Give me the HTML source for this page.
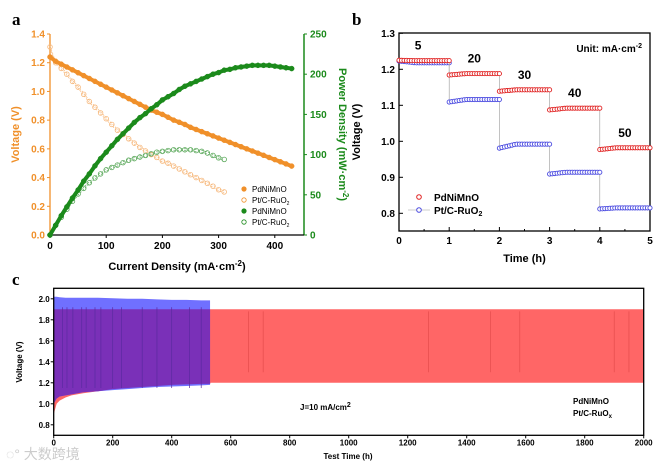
<!DOCTYPE html>
<html><head><meta charset="utf-8"><style>
body{margin:0;background:#fff;}
svg{display:block;font-family:"Liberation Sans",Arial,sans-serif;}
</style></head><body>
<svg id="fig" width="655" height="464" viewBox="0 0 655 464" xmlns="http://www.w3.org/2000/svg">
<g id="pa"></g>
<g id="pb"></g>
<g id="pc"></g>
</svg>
<script>
// ---------- Panel a data ----------
const aCurrentPd = [0,10,20,30,40,50,60,70,80,90,100,110,120,130,140,150,160,170,180,190,200,210,220,230,240,250,260,270,280,290,300,310,320,330,340,350,360,370,380,390,400,410,420,430];
const aVoltPd = [1.24,1.21,1.19,1.17,1.15,1.13,1.11,1.09,1.07,1.05,1.03,1.01,0.99,0.97,0.95,0.93,0.91,0.89,0.87,0.855,0.84,0.82,0.80,0.785,0.77,0.75,0.735,0.72,0.705,0.69,0.675,0.66,0.645,0.63,0.615,0.60,0.585,0.57,0.555,0.54,0.525,0.51,0.495,0.48];
const aPowerPd = [0,12,24,35,46,56,67,76,86,95,103,111,119,126,133,140,146,151,157,162,168,172,176,181,185,188,191,194,197,200,202,205,206,208,209,210,211,211,211,211,210,209,208,207];
const aCurrentPt = [0,10,20,30,40,50,60,70,80,90,100,110,120,130,140,150,160,170,180,190,200,210,220,230,240,250,260,270,280,290,300,310];
const aVoltPt = [1.31,1.2,1.16,1.12,1.07,1.03,0.98,0.93,0.89,0.85,0.81,0.77,0.73,0.70,0.67,0.64,0.61,0.585,0.56,0.54,0.515,0.50,0.48,0.46,0.44,0.42,0.40,0.38,0.36,0.34,0.315,0.30];
const aPowerPt = [0,12,22,32,42,51,58,65,71,76,81,84,87,90,93,95,97,99,101,103,104,105,106,106,106,106,105,104,102,99,96,94];
const aXTicks = [0,100,200,300,400];
const aVTicks = [0,0.2,0.4,0.6,0.8,1.0,1.2,1.4];
const aPTicks = [0,50,100,150,200,250];
// ---------- Panel b data ----------
const bSegments = [0,1,2,3,4];
const bPdStart = [1.225,1.184,1.139,1.087,0.977];
const bPdEnd = [1.224,1.188,1.143,1.092,0.982];
const bPtStart = [1.223,1.109,0.981,0.909,0.812];
const bPtEnd = [1.218,1.116,0.992,0.914,0.815];
const bCurrents = ["5","20","30","40","50"];
const bXTicks = [0,1,2,3,4,5];
const bYTicks = [0.8,0.9,1.0,1.1,1.2,1.3];
// ---------- Panel c data ----------
const cTime = [0,10,20,40,60,100,150,200,250,300,350,400,450,500,530];
const cRedBottom = [0.9,1.0,1.03,1.06,1.08,1.1,1.12,1.14,1.15,1.16,1.17,1.18,1.185,1.19,1.19];
const cBlueTop = [2.02,2.02,2.015,2.01,2.01,2.01,2.01,2.005,2.0,2.0,1.995,1.99,1.99,1.985,1.985];
const cBlueBottom = [1.0,1.05,1.07,1.08,1.09,1.11,1.12,1.13,1.14,1.15,1.16,1.165,1.17,1.175,1.18];
const cRedTop = 1.9;
const cRedBottomLate = 1.2;
const cXTicks = [0,200,400,600,800,1000,1200,1400,1600,1800,2000];
const cYTicks = [0.8,1.0,1.2,1.4,1.6,1.8,2.0];

const NS="http://www.w3.org/2000/svg";
function mk(parent,tag,attrs,text){const e=document.createElementNS(NS,tag);for(const k in attrs)e.setAttribute(k,attrs[k]);if(text!==undefined)e.textContent=text;parent.appendChild(e);return e;}

// ===== Panel a =====
(function(){
const g=document.getElementById('pa');
const X0=50,X1=304,Y0=235,Y1=34;
const sx=v=>X0+v*(56.2/100);
const sv=v=>Y0-(v/1.4)*(Y0-Y1);
const sp=v=>Y0-(v/250)*(Y0-Y1);
const OR="#f0902a",GR="#1b8a1b";
let t=mk(g,'text',{x:12,y:25,'font-family':'Liberation Serif,serif','font-weight':'bold','font-size':17},'a');


let ax=mk(g,'line',{x1:X0,y1:Y1,x2:X0,y2:Y0,stroke:OR,'stroke-width':1.3});

ax=mk(g,'line',{x1:X1,y1:Y1,x2:X1,y2:Y0,stroke:GR,'stroke-width':1.5});

ax=mk(g,'line',{x1:X0,y1:Y0,x2:X1,y2:Y0,stroke:'#000','stroke-width':1.3});

aXTicks.forEach(v=>{mk(g,'line',{x1:sx(v),y1:Y0,x2:sx(v),y2:Y0+3,stroke:'#000'});
 const l=mk(g,'text',{x:sx(v),y:Y0+14,'font-size':10,'font-weight':'bold','text-anchor':'middle'},v);
 });
aVTicks.forEach(v=>{mk(g,'line',{x1:X0-3,y1:sv(v),x2:X0,y2:sv(v),stroke:OR});
 const l=mk(g,'text',{x:X0-5,y:sv(v)+3.5,'font-size':10,'font-weight':'bold','text-anchor':'end',fill:OR},v.toFixed(1));
 });
aPTicks.forEach(v=>{mk(g,'line',{x1:X1,y1:sp(v),x2:X1+3,y2:sp(v),stroke:GR});
 const l=mk(g,'text',{x:X1+6,y:sp(v)+3.5,'font-size':10,'font-weight':'bold',fill:GR},v);
 });
let lb=mk(g,'text',{x:0,y:0,'font-size':11,'font-weight':'bold','text-anchor':'middle',fill:OR,transform:`translate(19,${(Y0+Y1)/2}) rotate(-90)`},'Voltage (V)');

lb=mk(g,'text',{x:0,y:0,'font-size':11,'font-weight':'bold','text-anchor':'middle',fill:GR,transform:`translate(339,${(Y0+Y1)/2}) rotate(90)`});
lb.innerHTML='Power Density (mW·cm<tspan dy="-4" font-size="8">-2</tspan><tspan dy="4">)</tspan>';

lb=mk(g,'text',{x:(X0+X1)/2,y:270,'font-size':11,'font-weight':'bold','text-anchor':'middle'});
lb.innerHTML='Current Density (mA·cm<tspan dy="-4" font-size="8">-2</tspan><tspan dy="4">)</tspan>';

function curve(xs,ys,scale,col,filled,name){
 const pts=xs.map((c,i)=>sx(c)+','+scale(ys[i])).join(' ');
 if(filled){const l=mk(g,'polyline',{points:pts,fill:'none',stroke:col,'stroke-width':4,'stroke-linejoin':'round'});
  }
 else{
  [-1,1].forEach(o=>{const l=mk(g,'polyline',{points:pts,fill:'none',stroke:col,'stroke-width':0.7,'stroke-dasharray':'2 1.5',transform:`translate(0,${o})`});
  });
 }
 xs.forEach((c,i)=>{const m=mk(g,'circle',{cx:sx(c),cy:scale(ys[i]),r:filled?2.5:2.3,fill:filled?col:'none',stroke:col,'stroke-width':filled?0.5:0.8});
  });
}
curve(aCurrentPt,aVoltPt,sv,'#f6b77a',false,'ptc-voltage');
curve(aCurrentPt,aPowerPt,sp,'#5aa85a',false,'ptc-power');
curve(aCurrentPd,aVoltPd,sv,OR,true,'pdnimno-voltage');
curve(aCurrentPd,aPowerPd,sp,GR,true,'pdnimno-power');
const leg=[['PdNiMnO',OR,true],['Pt/C-RuO',OR,false],['PdNiMnO',GR,true],['Pt/C-RuO',GR,false]];
leg.forEach((L,i)=>{const y=192+i*11;
 mk(g,'circle',{cx:244,cy:y-3,r:2.2,fill:L[2]?L[1]:'none',stroke:L[1],'stroke-width':0.8});
 const tx=mk(g,'text',{x:252,y:y,'font-size':8});
 tx.innerHTML=L[0]+(L[2]?'':'<tspan dy="2" font-size="5">2</tspan>');
 });
})();

// ===== Panel b =====
(function(){
const g=document.getElementById('pb');
const X0=399,X1=650,Y0=231,Y1=33;
const sx=v=>X0+v*((X1-X0)/5);
const sy=v=>213.3-(v-0.8)*360;
let t=mk(g,'text',{x:352,y:25,'font-family':'Liberation Serif,serif','font-weight':'bold','font-size':17},'b');

const fr=mk(g,'rect',{x:X0,y:Y1,width:X1-X0,height:Y0-Y1,fill:'none',stroke:'#000','stroke-width':1.3});

bXTicks.forEach(v=>{mk(g,'line',{x1:sx(v),y1:Y0,x2:sx(v),y2:Y0-4,stroke:'#000'});
 if(v<5)mk(g,'line',{x1:sx(v+0.5),y1:Y0,x2:sx(v+0.5),y2:Y0-2,stroke:'#000'});
 const l=mk(g,'text',{x:sx(v),y:Y0+13,'font-size':10,'font-weight':'bold','text-anchor':'middle'},v);
 });
bYTicks.forEach(v=>{mk(g,'line',{x1:X0,y1:sy(v),x2:X0+4,y2:sy(v),stroke:'#000'});
 const l=mk(g,'text',{x:X0-4,y:sy(v)+3.5,'font-size':10,'font-weight':'bold','text-anchor':'end'},v.toFixed(1));
 });
let lb=mk(g,'text',{x:0,y:0,'font-size':11,'font-weight':'bold','text-anchor':'middle',transform:`translate(360,${(Y0+Y1)/2}) rotate(-90)`},'Voltage (V)');

lb=mk(g,'text',{x:(X0+X1)/2,y:262,'font-size':11,'font-weight':'bold','text-anchor':'middle'},'Time (h)');

lb=mk(g,'text',{x:642,y:52,'font-size':10,'font-weight':'bold','text-anchor':'end'});
lb.innerHTML='Unit: mA·cm<tspan dy="-4" font-size="7">-2</tspan>';

function series(st,en,col,name){
 let pts=[];
 bSegments.forEach((s,i)=>{for(let k=0;k<=20;k++){const f=k/20;pts.push([s+f,st[i]+(en[i]-st[i])*Math.min(1,f*3)]);}});
 const ln=mk(g,'polyline',{points:pts.map(p=>sx(p[0])+','+sy(p[1])).join(' '),fill:'none',stroke:'#999','stroke-width':0.6});
 
 pts.forEach(p=>{const c=mk(g,'circle',{cx:sx(p[0]),cy:sy(p[1]),r:2.1,fill:'#fff',stroke:col,'stroke-width':0.9});
  });
}
series(bPtStart,bPtEnd,'#4a4ae0','ptc-ruo2');
series(bPdStart,bPdEnd,'#e02020','pdnimno');
bCurrents.forEach((c,i)=>{const l=mk(g,'text',{x:sx(bSegments[i]+0.5)+(i==0?-6:0),y:sy(bPdEnd[i])-11,'font-size':12,'font-weight':'bold','text-anchor':'middle'},c);
 });
mk(g,'circle',{cx:419,cy:197,r:2.3,fill:'#fff',stroke:'#e02020'});
let le=mk(g,'text',{x:434,y:201,'font-size':10,'font-weight':'bold'},'PdNiMnO');

mk(g,'line',{x1:408,y1:210,x2:430,y2:210,stroke:'#999','stroke-width':0.6});
mk(g,'circle',{cx:419,cy:210,r:2.3,fill:'#fff',stroke:'#4a4ae0'});
le=mk(g,'text',{x:434,y:214,'font-size':10,'font-weight':'bold'});
le.innerHTML='Pt/C-RuO<tspan dy="2" font-size="7">2</tspan>';

})();

// ===== Panel c =====
(function(){
const g=document.getElementById('pc');
const X0=53.7,X1=643.7,Y0=435.3,Y1=288.3;
const sx=v=>X0+v*((X1-X0)/2000);
const sy=v=>Y0-(v-0.7)*((Y0-Y1)/1.4);
let t=mk(g,'text',{x:12,y:285,'font-family':'Liberation Serif,serif','font-weight':'bold','font-size':17},'c');

let top=cTime.map(x=>sx(x)+','+sy(cRedTop));
top.push(sx(2000)+','+sy(cRedTop));
let bot=cTime.map((x,i)=>sx(x)+','+sy(cRedBottom[i])).reverse();
bot.unshift(sx(2000)+','+sy(cRedBottomLate),sx(cTime[cTime.length-1]+2)+','+sy(cRedBottomLate));
let p=mk(g,'polygon',{points:top.concat(bot).join(' '),fill:'#ff6666'});

top=cTime.map((x,i)=>sx(x)+','+sy(cBlueTop[i]));
bot=cTime.map((x,i)=>sx(x)+','+sy(cBlueBottom[i])).reverse();
p=mk(g,'polygon',{points:top.concat(bot).join(' '),fill:'#7070ff'});

top=cTime.map(x=>sx(x)+','+sy(cRedTop));
bot=cTime.map((x,i)=>sx(x)+','+sy(Math.max(cRedBottom[i],cBlueBottom[i]))).reverse();
p=mk(g,'polygon',{points:top.concat(bot).join(' '),fill:'#7a30b8'});

[30,45,65,95,110,140,160,200,230,300,350,400,460,500].forEach(x=>{mk(g,'line',{x1:sx(x),y1:sy(1.92),x2:sx(x),y2:sy(1.15),stroke:'#5a2aa0','stroke-width':0.7});});
[660,710,1270,1480,1580,1900,1950].forEach(x=>{mk(g,'line',{x1:sx(x),y1:sy(1.88),x2:sx(x),y2:sy(1.3),stroke:'#e04848','stroke-width':0.6});});
const fr=mk(g,'rect',{x:X0,y:Y1,width:X1-X0,height:Y0-Y1,fill:'none',stroke:'#000','stroke-width':1.3});

cXTicks.forEach(v=>{mk(g,'line',{x1:sx(v),y1:Y0,x2:sx(v),y2:Y0+3,stroke:'#000'});
 const l=mk(g,'text',{x:sx(v),y:Y0+10,'font-size':8,'font-weight':'bold','text-anchor':'middle'},v);
 });
cYTicks.forEach(v=>{mk(g,'line',{x1:X0-3,y1:sy(v),x2:X0,y2:sy(v),stroke:'#000'});
 const l=mk(g,'text',{x:X0-4,y:sy(v)+3,'font-size':8,'font-weight':'bold','text-anchor':'end'},v.toFixed(1));
 });
let lb=mk(g,'text',{x:0,y:0,'font-size':8,'font-weight':'bold','text-anchor':'middle',transform:`translate(22,362) rotate(-90)`},'Voltage (V)');

lb=mk(g,'text',{x:348,y:459,'font-size':8,'font-weight':'bold','text-anchor':'middle'},'Test Time (h)');

lb=mk(g,'text',{x:300,y:410,'font-size':8,'font-weight':'bold'});
lb.innerHTML='J=10 mA/cm<tspan dy="-3" font-size="7">2</tspan>';

lb=mk(g,'text',{x:573,y:404,'font-size':8,'font-weight':'bold'},'PdNiMnO');

lb=mk(g,'text',{x:573,y:416,'font-size':8,'font-weight':'bold'});
lb.innerHTML='Pt/C-RuO<tspan dy="2" font-size="6">x</tspan>';

lb=mk(g,'text',{x:6,y:459,'font-size':14,fill:'#ccc','font-family':'Liberation Sans,Noto Sans CJK SC,sans-serif'},'◌° 大数跨境');

})();
</script>
</body></html>
